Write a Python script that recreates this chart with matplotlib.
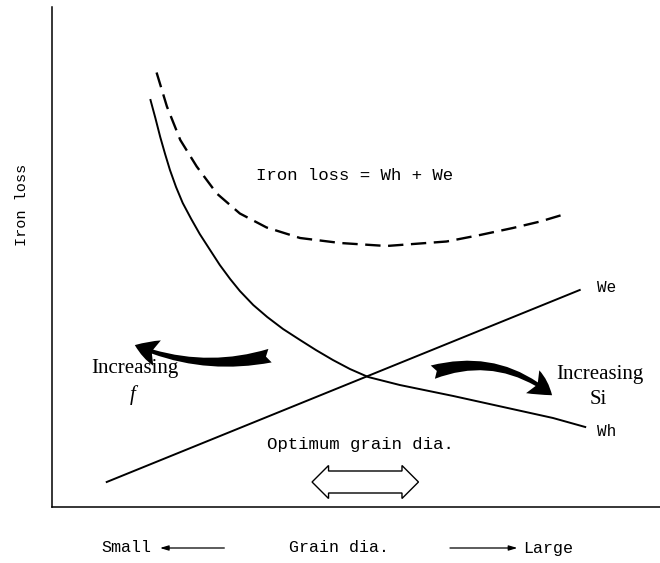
import matplotlib
matplotlib.use('Agg')
import matplotlib.pyplot as plt
from matplotlib.patches import FancyArrowPatch

# ---- data (x: grain dia., y: iron loss, arbitrary units) ---- #
we_x = [9.0, 86.8]
we_y = [5.0, 43.4]

wh_x = [16.2, 17.0, 17.8, 18.6, 19.4, 20.4, 21.5, 22.9, 24.3, 26.0, 27.6,
        29.3, 30.9, 33.1, 35.4, 38.0, 40.8, 43.4, 46.2, 49.0, 52.0, 57.2,
        66.0, 74.2, 82.4, 87.7]
wh_y = [81.4, 77.8, 74.0, 70.6, 67.4, 64.0, 60.8, 57.6, 54.6, 51.4, 48.4,
        45.6, 43.2, 40.4, 38.0, 35.6, 33.4, 31.4, 29.4, 27.6, 26.0, 24.4,
        22.2, 20.0, 17.8, 16.0]

total_x = [17.2, 18.9, 21.1, 23.8, 27.1, 30.9, 35.3, 40.8, 47.4, 55.0,
           64.9, 70.4, 75.8, 80.3, 84.7]
total_y = [86.9, 80.1, 73.4, 68.1, 62.7, 58.7, 55.9, 53.8, 52.8, 52.2,
           53.1, 54.4, 55.8, 57.1, 58.7]

mono = 'Liberation Mono'
serif = 'Liberation Serif'

fig = plt.figure(figsize=(6.6, 5.63), dpi=100)
ax = fig.add_axes([52/660, 56/563, 608/660, 500/563])
ax.set_xlim(0, 100)
ax.set_ylim(0, 100)
for s in ['top', 'right']:
    ax.spines[s].set_visible(False)
for s in ['left', 'bottom']:
    ax.spines[s].set_linewidth(1.1)
ax.set_xticks([])
ax.set_yticks([])

# ---- curves ---- #
ax.plot(we_x, we_y, color='black', lw=1.4, solid_joinstyle='round')
ax.plot(wh_x, wh_y, color='black', lw=1.4, solid_joinstyle='round')
ax.plot(total_x, total_y, color='black', lw=1.7, dashes=(6.5, 3.2))

# ---- labels ---- #
ax.text(49.7, 66.4, 'Iron loss = Wh + We', family=mono, fontsize=12.5,
        ha='center', va='center')
ax.text(89.6, 43.8, 'We', family=mono, fontsize=11.5, ha='left', va='center')
ax.text(89.6, 15.0, 'Wh', family=mono, fontsize=11.5, ha='left', va='center')
ax.text(50.8, 12.4, 'Optimum grain dia.', family=mono, fontsize=12.5,
        ha='center', va='center')
ax.text(13.7, 27.8, 'Increasing', family=serif, fontsize=15,
        ha='center', va='center')
ax.text(13.2, 22.4, 'f', family=serif, style='italic', fontsize=15,
        ha='center', va='center')
ax.text(90.1, 26.4, 'Increasing', family=serif, fontsize=15,
        ha='center', va='center')
ax.text(89.8, 21.4, 'Si', family=serif, fontsize=15, ha='center', va='center')
ax.text(-4.9, 60.4, 'Iron loss', family=mono, fontsize=11, rotation=90,
        ha='center', va='center', clip_on=False)

# ---- curved arrows (frequency / Si effect) ---- #
style = 'fancy,head_length=17,head_width=19,tail_width=10'
ax.add_patch(FancyArrowPatch((36.3, 30.4), (13.2, 32.6), arrowstyle=style,
                             mutation_scale=1, connectionstyle='arc3,rad=-0.17',
                             color='black', lw=0))
ax.add_patch(FancyArrowPatch((62.2, 26.8), (82.6, 22.0), arrowstyle=style,
                             mutation_scale=1, connectionstyle='arc3,rad=-0.28',
                             color='black', lw=0))

# ---- hollow double arrow for optimum range ---- #
ax.text(51.6, 5.0, ' ' * 11, family=mono, fontsize=9, ha='center', va='center',
        bbox=dict(boxstyle='darrow,pad=0.4', fc='white', ec='black', lw=1.0))

# ---- x axis caption ---- #
ax.text(8.2, -8.2, 'Small', family=mono, fontsize=12, ha='left', va='center')
ax.text(47.2, -8.2, 'Grain dia.', family=mono, fontsize=12, ha='center', va='center')
ax.text(77.5, -8.2, 'Large', family=mono, fontsize=12, ha='left', va='center')
ax.annotate('', xy=(17.3, -8.2), xytext=(28.8, -8.2), annotation_clip=False,
            arrowprops=dict(arrowstyle='-|>,head_length=0.5,head_width=0.15',
                            color='black', lw=0.9))
ax.annotate('', xy=(77.0, -8.2), xytext=(65.0, -8.2), annotation_clip=False,
            arrowprops=dict(arrowstyle='-|>,head_length=0.5,head_width=0.15',
                            color='black', lw=0.9))

fig.savefig('out.png', dpi=100)
